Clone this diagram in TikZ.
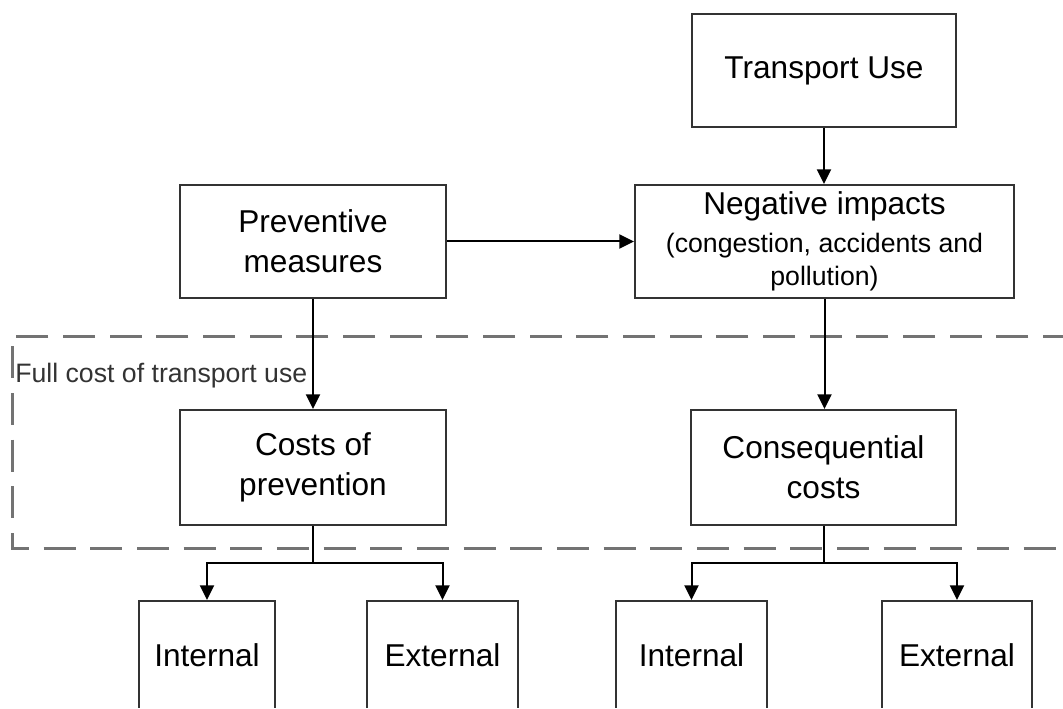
\documentclass[tikz,border=0pt]{standalone}
\usepackage{fontspec}
\setmainfont{Liberation Sans}
\usetikzlibrary{arrows.meta}

\begin{document}
\begin{tikzpicture}[x=0.75pt,y=-0.75pt,
        box/.style={draw=black!80,line width=1.5pt,align=center,inner sep=0pt,
            font=\fontsize{23.7}{30}\selectfont},
        arr/.style={line width=1.5pt,-{Triangle[length=11pt,width=10.5pt]}},
        link/.style={line width=1.5pt},
        frame/.style={draw=black!55,line width=2.25pt,dash pattern=on 24pt off 11pt},
        lbl/.style={text=black!80,inner sep=0pt,font=\fontsize{20}{24}\selectfont}]
    \useasboundingbox (0,0) rectangle (1063,709);
    \clip (0,0) rectangle (1063,707.5);

            % full cost frame
            \draw[frame] (1075,336) -- (12,336) -- (12,548) -- (1075,548);
            \node[lbl,anchor=base west] (fc) at (15,382) {Full cost of transport use};

            \node[box,minimum width=198pt,minimum height=84.75pt] (tu) at (824,70.5) {Transport Use};
            \node[box,minimum width=199.5pt,minimum height=84.75pt] (pm) at (313,241.5) {Preventive\\measures};
            \node[box,minimum width=284.25pt,minimum height=84.75pt] (ni) at (824.5,241.5)
                {Negative impacts\\[-2pt]\fontsize{20}{24}\selectfont (congestion, accidents and\\[-5pt]\fontsize{20}{24}\selectfont pollution)};

            \node[box,minimum width=199.5pt,minimum height=86.25pt] (cp) at (313,467.5) {Costs of\\prevention};
            \node[box,minimum width=198.75pt,minimum height=86.25pt] (cc) at (823.5,467.5) {Consequential\\costs};

            \node[box,minimum width=102pt,minimum height=81pt] (in1) at (207,655) {Internal};
            \node[box,minimum width=113.25pt,minimum height=81pt] (ex1) at (442.5,655) {External};
            \node[box,minimum width=113.25pt,minimum height=81pt] (in2) at (691.5,655) {Internal};
            \node[box,minimum width=112.5pt,minimum height=81pt] (ex2) at (957,655) {External};

            \draw[arr] (tu.south) -- (tu.south |- ni.north);
            \draw[arr] (pm) -- (ni);
            \draw[arr] (pm) -- (cp);
            \draw[arr] (ni.south) -- (ni.south |- cc.north);

            \draw[link] (cp.south) -- ++(0,37) coordinate (b1);
            \draw[arr] (b1) -| (in1.north);
            \draw[arr] (b1) -| (ex1.north);
            \draw[link] (cc.south) -- ++(0,37) coordinate (b2);
            \draw[arr] (b2) -| (in2.north);
            \draw[arr] (b2) -| (ex2.north);
     \end{tikzpicture}
\end{document}
